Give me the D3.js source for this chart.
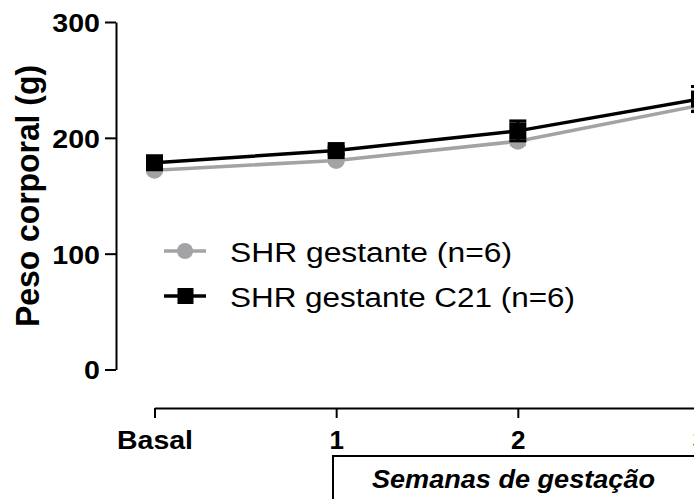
<!DOCTYPE html>
<html>
<head>
<meta charset="utf-8">
<script src="https://cdn.jsdelivr.net/npm/d3@7"></script>
<style>
  html, body { margin: 0; padding: 0; background: #fff; }
  svg { display: block; }
  text { font-family: "Liberation Sans", Arial, Helvetica, sans-serif; fill: #000; }
</style>
</head>
<body>
<svg id="chart" width="694" height="499"></svg>
<script>
// Body weight during gestation
const categories = ["Basal", "1", "2", "3"];
const yTicks = [0, 100, 200, 300];
const seriesNames = ["SHR gestante (n=6)", "SHR gestante C21 (n=6)"];
const shrMean = [172, 180.5, 197, 228];
const shrSem = [2, 2, 3, 4];
const c21Mean = [178.5, 189, 206, 233.5];
const c21Sem = [2, 3, 8.6, 10.8];
const yTitle = "Peso corporal (g)";
const xTitle = "Semanas de gestação";

const svg = d3.select("#chart");
const grey = "#a3a3a6";

const x = d3.scaleLinear().domain([0, 3]).range([154.5, 699.5]);
const y = d3.scaleLinear().domain([0, 300]).range([369.5, 22]);

// Y axis
const yAxis = svg.append("g")
  .attr("transform", "translate(116,0)")
  .call(d3.axisLeft(y).tickValues(yTicks).tickSize(11).tickSizeOuter(0).tickPadding(5));
yAxis.select(".domain").attr("stroke", "#000").attr("stroke-width", 2);
yAxis.selectAll(".tick line").attr("stroke", "#000").attr("stroke-width", 2);
yAxis.selectAll(".tick text")
  .attr("font-size", 26).attr("font-weight", "bold")
  .attr("dy", "0.36em")
  .each(function(d) {
    const s = String(d);
    d3.select(this).attr("textLength", s.length * 15.9).attr("lengthAdjust", "spacingAndGlyphs");
  });

// X axis (offset below plot)
const xAxis = svg.append("g")
  .attr("transform", "translate(0,408)")
  .call(d3.axisBottom(x).tickValues([0, 1, 2, 3]).tickFormat(i => categories[i])
    .tickSize(10).tickSizeOuter(0).tickPadding(13));
xAxis.select(".domain").attr("stroke", "#000").attr("stroke-width", 2);
xAxis.selectAll(".tick line").attr("stroke", "#000").attr("stroke-width", 2);
xAxis.selectAll(".tick text")
  .attr("font-size", 26).attr("font-weight", "bold")
  .attr("dy", "0.71em")
  .each(function(i) {
    const t = d3.select(this);
    if (categories[i] === "Basal") t.attr("textLength", 76).attr("lengthAdjust", "spacingAndGlyphs");
  });

// Y title
svg.append("text")
  .attr("transform", "translate(39,196) rotate(-90)")
  .attr("text-anchor", "middle")
  .attr("font-size", 33).attr("font-weight", "bold")
  .attr("textLength", 262).attr("lengthAdjust", "spacingAndGlyphs")
  .text(yTitle);

// X title box
svg.append("rect")
  .attr("x", 333).attr("y", 456).attr("width", 400).attr("height", 80)
  .attr("fill", "none").attr("stroke", "#000").attr("stroke-width", 2);
svg.append("text")
  .attr("x", 372).attr("y", 488)
  .attr("font-size", 26).attr("font-weight", "bold").attr("font-style", "italic")
  .attr("textLength", 283).attr("lengthAdjust", "spacingAndGlyphs")
  .text(xTitle);

const line = d3.line().x((d, i) => x(i)).y(d => y(d));

function errorBars(g, means, sems, color, capW) {
  means.forEach((m, i) => {
    const cx = x(i), y0 = y(m - sems[i]), y1 = y(m + sems[i]);
    g.append("line").attr("x1", cx).attr("x2", cx).attr("y1", y0).attr("y2", y1)
      .attr("stroke", color).attr("stroke-width", 3);
    [y0, y1].forEach(yy => g.append("line")
      .attr("x1", cx - capW / 2).attr("x2", cx + capW / 2).attr("y1", yy).attr("y2", yy)
      .attr("stroke", color).attr("stroke-width", 3));
  });
}

// Series 1: grey circles
const g1 = svg.append("g");
errorBars(g1, shrMean, shrSem, grey, 16);
g1.append("path").datum(shrMean).attr("d", line)
  .attr("fill", "none").attr("stroke", grey).attr("stroke-width", 3.5);
g1.selectAll("circle").data(shrMean).join("circle")
  .attr("cx", (d, i) => x(i)).attr("cy", d => y(d)).attr("r", 8.5).attr("fill", grey);

// Series 2: black squares
const g2 = svg.append("g");
errorBars(g2, c21Mean, c21Sem, "#000", 17);
g2.append("path").datum(c21Mean).attr("d", line)
  .attr("fill", "none").attr("stroke", "#000").attr("stroke-width", 3.5);
g2.selectAll("rect").data(c21Mean).join("rect")
  .attr("x", (d, i) => x(i) - 8.5).attr("y", d => y(d) - 8.5)
  .attr("width", 17).attr("height", 17).attr("fill", "#000");

// Legend
const legend = svg.append("g");
const legendRows = [
  { name: seriesNames[0], color: grey, shape: "circle", y: 251, w: 282 },
  { name: seriesNames[1], color: "#000", shape: "square", y: 296, w: 345 }
];
legendRows.forEach(r => {
  legend.append("line").attr("x1", 164).attr("x2", 206).attr("y1", r.y).attr("y2", r.y)
    .attr("stroke", r.color).attr("stroke-width", 3.5);
  if (r.shape === "circle") {
    legend.append("circle").attr("cx", 185).attr("cy", r.y).attr("r", 8).attr("fill", r.color);
  } else {
    legend.append("rect").attr("x", 177.5).attr("y", r.y - 8).attr("width", 16).attr("height", 16).attr("fill", r.color);
  }
  legend.append("text").attr("x", 230).attr("y", r.y + 10.5)
    .attr("font-size", 27)
    .attr("textLength", r.w).attr("lengthAdjust", "spacingAndGlyphs")
    .text(r.name);
});
</script>
</body>
</html>
